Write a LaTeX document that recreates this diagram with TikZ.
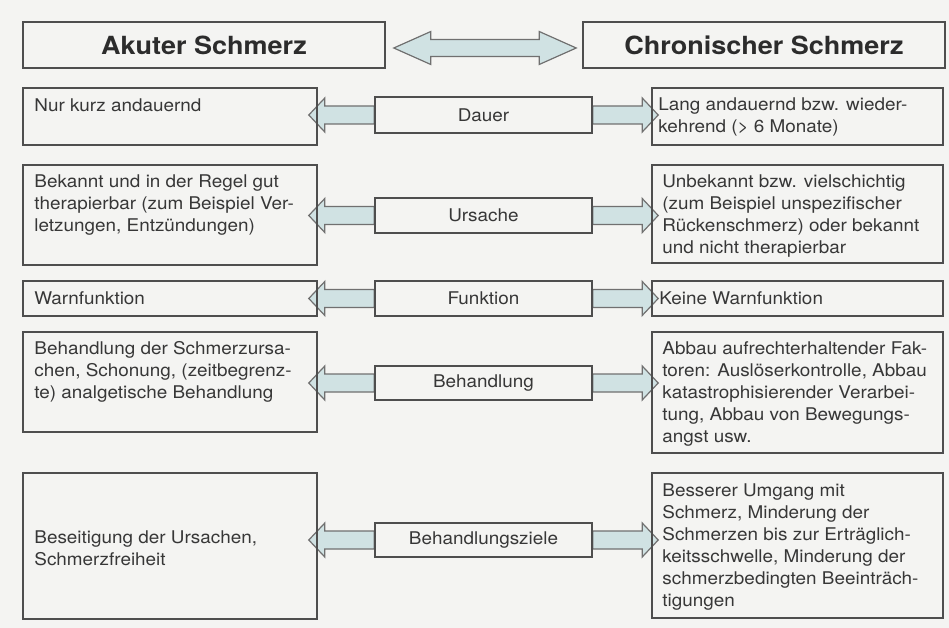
\documentclass[tikz,border=0pt]{standalone}
\usepackage{fontspec}
\setmainfont{TeX Gyre Heros}[FakeStretch=1.08]
\usetikzlibrary{calc}
\definecolor{paper}{RGB}{244,244,242}
\definecolor{boxline}{RGB}{78,78,78}
\definecolor{ink}{RGB}{55,55,55}
\definecolor{arrowfill}{RGB}{208,226,227}
\definecolor{arrowline}{RGB}{112,112,112}
\tikzstyle{cell}=[rectangle, draw=boxline, line width=1.6pt, inner sep=0pt]
\tikzstyle{txt}=[anchor=north west, align=left, inner sep=0pt, text=ink, font=\fontsize{17.5}{22}\selectfont]
\tikzset{head/.style={cell, text=ink!80!black, font=\fontsize{25}{30}\selectfont\bfseries}}
\tikzset{topic/.style={cell, text=ink, font=\fontsize{17.5}{22}\selectfont}}
\tikzset{fat/.style={draw=arrowline, fill=arrowfill, line width=1.2pt, line join=miter}}
\pgfdeclarelayer{bg}
\pgfdeclarelayer{arrows}
\pgfsetlayers{bg,arrows,main}
% block arrow: shaft starts at #1, tip at #2 (same height)
\newcommand{\fatarrow}[2]{%
  \draw[fat] let \p1=(#1), \p2=(#2), \n1={sign(\x2-\x1)} in
    (\x1,{\y1+9pt}) -- ({\x2-(\n1)*16pt},{\y1+9pt}) -- ({\x2-(\n1)*16pt},{\y1+17pt})
    -- (\x2,\y1) -- ({\x2-(\n1)*16pt},{\y1-17pt}) -- ({\x2-(\n1)*16pt},{\y1-9pt})
    -- (\x1,{\y1-9pt}) -- cycle;}

\begin{document}
\begin{tikzpicture}[x=1pt,y=-1pt]
  \begin{pgfonlayer}{bg}
    \fill[paper] (0,0) rectangle (949,628);
  \end{pgfonlayer}
  \useasboundingbox (0,0) rectangle (949,628);

  %% Headings
  \draw (204,45) node[head, minimum width=362pt, minimum height=46pt] (HL) {Akuter Schmerz};
  \draw (764,45) node[head, minimum width=362pt, minimum height=46pt] (HR) {Chronischer Schmerz};

  %% Acute side
  \draw (170,116.5) node[cell, minimum width=294pt, minimum height=57pt] (L1) {};
  \draw (170,215) node[cell, minimum width=294pt, minimum height=100pt] (L2) {};
  \draw (170,298.5) node[cell, minimum width=294pt, minimum height=35pt] (L3) {};
  \draw (170,382) node[cell, minimum width=294pt, minimum height=100pt] (L4) {};
  \draw (170,546) node[cell, minimum width=294pt, minimum height=146pt] (L5) {};

  %% Topics
  \draw (483.5,115) node[topic, minimum width=217pt, minimum height=36pt] (M1) {Dauer};
  \draw (483.5,215.5) node[topic, minimum width=217pt, minimum height=35pt] (M2) {Ursache};
  \draw (483.5,298.5) node[topic, minimum width=217pt, minimum height=35pt] (M3) {Funktion};
  \draw (483.5,383) node[topic, minimum width=217pt, minimum height=34pt] (M4) {Behandlung};
  \draw (483.5,540) node[topic, minimum width=217pt, minimum height=34pt] (M5) {Behandlungsziele};

  %% Chronic side
  \draw (797.5,116.5) node[cell, minimum width=291pt, minimum height=57pt] (R1) {};
  \draw (797.5,214) node[cell, minimum width=291pt, minimum height=98pt] (R2) {};
  \draw (797.5,298.5) node[cell, minimum width=291pt, minimum height=35pt] (R3) {};
  \draw (797.5,392.5) node[cell, minimum width=291pt, minimum height=121pt] (R4) {};
  \draw (797.5,545.5) node[cell, minimum width=291pt, minimum height=145pt] (R5) {};

  %% Texts
  \draw ([xshift=12pt,yshift=-11pt]L1.north west) node[txt] (L1t) {Nur kurz andauernd};
  \draw ([xshift=12pt,yshift=-10.5pt]L2.north west) node[txt] (L2t) {Bekannt und in der Regel gut\\therapierbar (zum Beispiel Ver-\\letzungen, Entzündungen)};
  \draw ([xshift=12pt,yshift=-11pt]L3.north west) node[txt] (L3t) {Warnfunktion};
  \draw ([xshift=12pt,yshift=-10.5pt]L4.north west) node[txt] (L4t) {Behandlung der Schmerzursa-\\chen, Schonung, (zeitbegrenz-\\te) analgetische Behandlung};
  \draw ([xshift=12pt,yshift=-58pt]L5.north west) node[txt] (L5t) {Beseitigung der Ursachen,\\Schmerzfreiheit};

  \draw ([xshift=7pt,yshift=-10.5pt]R1.north west) node[txt] (R1t) {Lang andauernd bzw. wieder-\\kehrend (> 6 Monate)};
  \draw ([xshift=11pt,yshift=-10.5pt]R2.north west) node[txt] (R2t) {Unbekannt bzw. vielschichtig\\(zum Beispiel unspezifischer\\Rückenschmerz) oder bekannt\\und nicht therapierbar};
  \draw ([xshift=8pt,yshift=-11pt]R3.north west) node[txt] (R3t) {Keine Warnfunktion};
  \draw ([xshift=11pt,yshift=-10.5pt]R4.north west) node[txt] (R4t) {Abbau aufrechterhaltender Fak-\\toren: Auslöserkontrolle, Abbau\\katastrophisierender Verarbei-\\tung, Abbau von Bewegungs-\\angst usw.};
  \draw ([xshift=11pt,yshift=-11pt]R5.north west) node[txt] (R5t) {Besserer Umgang mit\\Schmerz, Minderung der\\Schmerzen bis zur Erträglich-\\keitsschwelle, Minderung der\\schmerzbedingten Beeinträch-\\tigungen};

  %% Arrows
  \begin{pgfonlayer}{arrows}
    \draw[fat] let \p1=([xshift=8pt,yshift=-3pt]HL.east), \p2=([xshift=-6pt,yshift=-3pt]HR.west) in
      (\p1) -- ({\x1+37pt},{\y1+16.5pt}) -- ({\x1+37pt},{\y1+8.5pt}) -- ({\x2-37pt},{\y2+8.5pt})
      -- ({\x2-37pt},{\y2+16.5pt}) -- (\p2) -- ({\x2-37pt},{\y2-16.5pt}) -- ({\x2-37pt},{\y2-8.5pt})
      -- ({\x1+37pt},{\y1-8.5pt}) -- ({\x1+37pt},{\y1-16.5pt}) -- cycle;
    \foreach \i in {1,...,5} {
      \fatarrow{M\i.west}{[xshift=-9pt]L\i.east |- M\i.west}
      \fatarrow{M\i.east}{[xshift=7pt]R\i.west |- M\i.east}
    }
  \end{pgfonlayer}
\end{tikzpicture}
\end{document}
